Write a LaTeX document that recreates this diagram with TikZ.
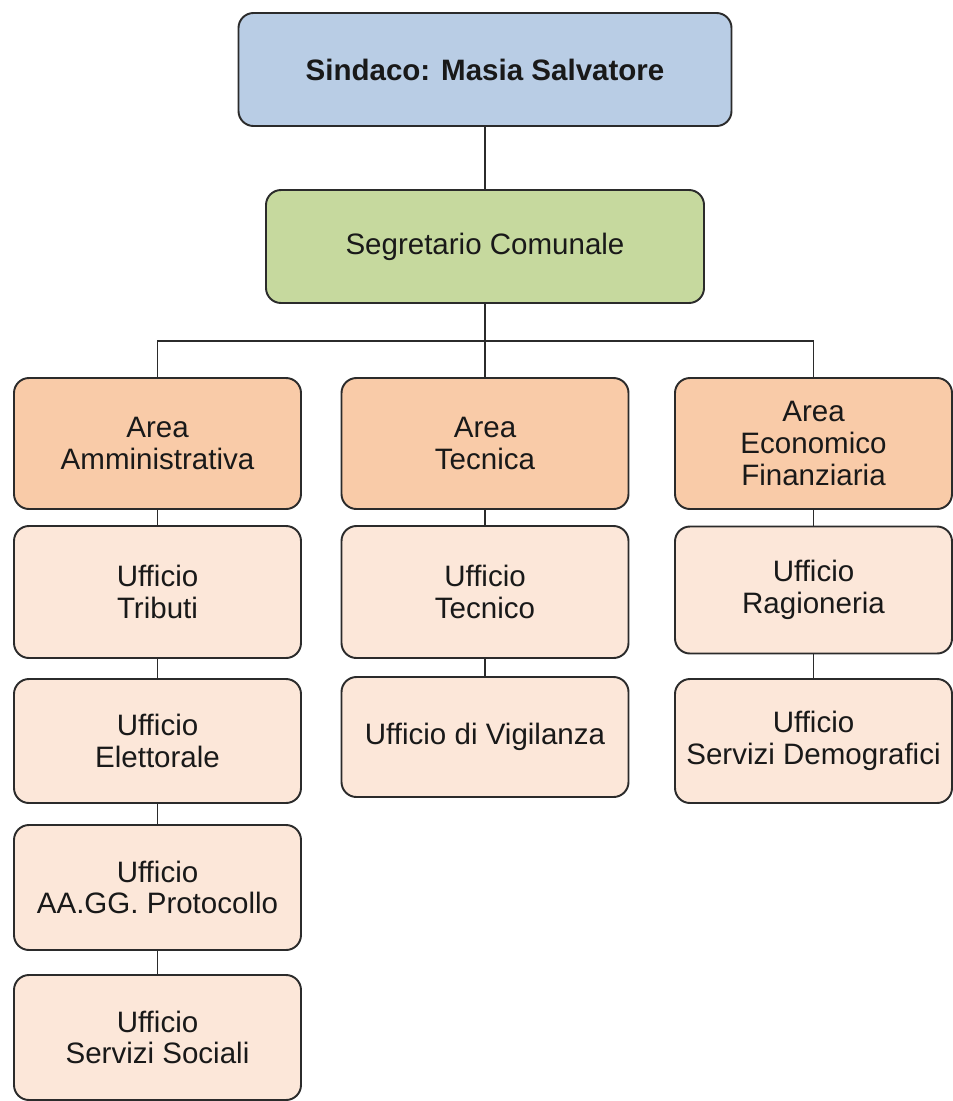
\documentclass[tikz,border=0pt]{standalone}
\usepackage{fontspec}
\setmainfont{Liberation Sans}
\usepackage{tikz}

\definecolor{sindacoblue}{HTML}{B9CDE5}
\definecolor{segrgreen}{HTML}{C6D99E}
\definecolor{areaorange}{HTML}{F9CBA8}
\definecolor{ufficiopink}{HTML}{FCE7D9}
\definecolor{linegray}{HTML}{2B2B2B}

\begin{document}
\begin{tikzpicture}[
  box/.style={draw=linegray,line width=1.1pt,rounded corners=0.3cm,align=center,
    text=black!90,font=\fontsize{16.8}{18}\selectfont,inner sep=0pt},
  capo/.style={box,minimum height=2.26cm},
  area/.style={box,fill=areaorange,minimum width=5.74cm,minimum height=2.62cm},
  ufficio/.style={box,fill=ufficiopink,minimum width=5.74cm},
  link/.style={draw=linegray,line width=1.1pt}]
\useasboundingbox (0,0) rectangle (19.06,-22.02);
\node[capo,fill=sindacoblue,minimum width=9.86cm,font=\fontsize{16.8}{18}\selectfont\bfseries] (sindaco) at (9.7,-1.39) {Sindaco: Masia Salvatore};
\node[capo,fill=segrgreen,minimum width=8.76cm] (segretario) at (9.7,-4.93) {Segretario Comunale};
\coordinate (bus) at (9.7,-6.82);
\node[area] (areaamm) at (3.15,-8.87) {Area\\Amministrativa};
\node[area] (areatec) at (9.7,-8.87) {Area\\Tecnica};
\node[area,minimum width=5.54cm] (areaeco) at (16.27,-8.87) {Area\\Economico\\Finanziaria};
\node[ufficio,minimum height=2.64cm] (tributi) at (3.15,-11.84) {Ufficio\\Tributi};
\node[ufficio,minimum height=2.48cm] (elettorale) at (3.15,-14.82) {Ufficio\\Elettorale};
\node[ufficio,minimum height=2.5cm] (protocollo) at (3.15,-17.75) {Ufficio\\AA.GG. Protocollo};
\node[ufficio,minimum height=2.5cm] (sociali) at (3.15,-20.75) {Ufficio\\Servizi Sociali};
\node[ufficio,minimum height=2.64cm] (uftecnico) at (9.7,-11.84) {Ufficio\\Tecnico};
\node[ufficio,minimum height=2.4cm] (vigilanza) at (9.7,-14.74) {Ufficio di Vigilanza};
\node[ufficio,minimum width=5.54cm,minimum height=2.54cm] (ragioneria) at (16.27,-11.8) {Ufficio\\Ragioneria};
\node[ufficio,minimum width=5.54cm,minimum height=2.48cm] (demografici) at (16.27,-14.82) {Ufficio\\Servizi Demografici};
% vertical links
\draw[link] (sindaco) -- (segretario);
\draw[link] (segretario) -- (areatec);
\draw[link] (areaamm.north) |- (bus) -| (areaeco.north);
\draw[link] (areaamm) -- (tributi);
\draw[link] (tributi) -- (elettorale);
\draw[link] (elettorale) -- (protocollo);
\draw[link] (protocollo) -- (sociali);
\draw[link] (areatec) -- (uftecnico);
\draw[link] (uftecnico) -- (vigilanza);
\draw[link] (areaeco) -- (ragioneria);
\draw[link] (ragioneria) -- (demografici);
\end{tikzpicture}
\end{document}
